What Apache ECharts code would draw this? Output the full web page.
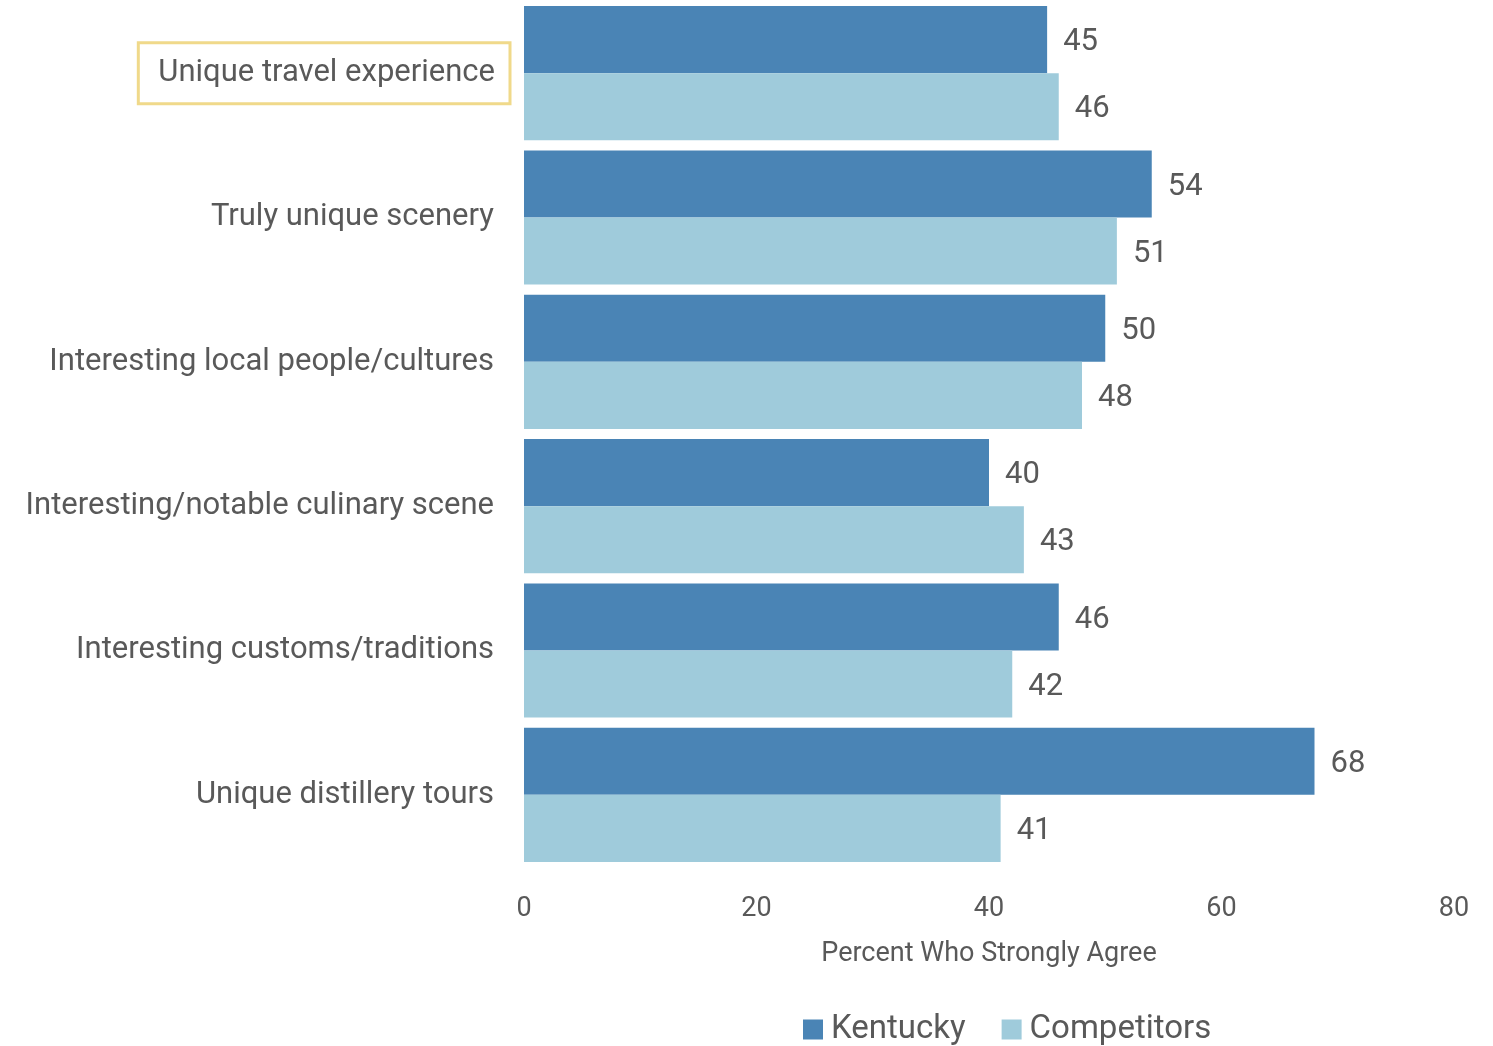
<!DOCTYPE html>
<html>
<head>
<meta charset="utf-8">
<script src="https://cdn.jsdelivr.net/npm/echarts@6/dist/echarts.min.js"></script>
<style>
  html, body { margin: 0; padding: 0; background: #fff; }
  #chart { width: 1493px; height: 1046px; }
</style>
</head>
<body>
<div id="chart"></div>
<script>
// Attributes, listed top to bottom
const categories = [
  'Unique travel experience',
  'Truly unique scenery',
  'Interesting local people/cultures',
  'Interesting/notable culinary scene',
  'Interesting customs/traditions',
  'Unique distillery tours'
];
const kentucky = [45, 54, 50, 40, 46, 68];
const competitors = [46, 51, 48, 43, 42, 41];
const xTicks = [0, 20, 40, 60, 80];
const highlighted = 'Unique travel experience';

const textColor = '#595959';
const font = 'Roboto, "DejaVu Sans", sans-serif';

const chart = echarts.init(document.getElementById('chart'));

const valueLabel = {
  show: true,
  position: 'right',
  distance: 16,
  offset: [0, 3],
  color: textColor,
  fontFamily: font,
  fontSize: 31
};

chart.setOption({
  backgroundColor: '#ffffff',
  animation: false,
  grid: { left: 524, right: 39, top: 1, bottom: 179 },
  xAxis: {
    type: 'value',
    min: xTicks[0],
    max: xTicks[xTicks.length - 1],
    interval: 20,
    name: 'Percent Who Strongly Agree',
    nameLocation: 'middle',
    nameGap: 74,
    nameTextStyle: { color: textColor, fontFamily: font, fontSize: 27 },
    axisLine: { show: false },
    axisTick: { show: false },
    splitLine: { show: false },
    axisLabel: { color: textColor, fontFamily: font, fontSize: 27, margin: 29 }
  },
  yAxis: {
    type: 'category',
    inverse: true,
    data: categories,
    axisLine: { show: false },
    axisTick: { show: false },
    axisLabel: {
      margin: 14,
      formatter: v => v === highlighted ? '{hl|' + v + '}' : '{n|' + v + '}',
      rich: {
        hl: {
          color: textColor, fontFamily: font, fontSize: 31,
          borderColor: '#f0d98a', borderWidth: 3,
          padding: [15, 15, 15, 20]
        },
        n: {
          color: textColor, fontFamily: font, fontSize: 31,
          padding: [15, 16, 15, 16]
        }
      }
    }
  },
  legend: {
    bottom: -5,
    left: 798,
    itemWidth: 20,
    itemHeight: 20,
    itemGap: 36,
    icon: 'rect',
    textStyle: { color: textColor, fontFamily: font, fontSize: 33, padding: [0, 0, 0, 3] },
    data: ['Kentucky', 'Competitors']
  },
  series: [
    {
      name: 'Kentucky',
      type: 'bar',
      data: kentucky,
      itemStyle: { color: '#4a84b5' },
      barGap: '0%',
      barCategoryGap: '7%',
      label: valueLabel
    },
    {
      name: 'Competitors',
      type: 'bar',
      data: competitors,
      itemStyle: { color: '#9fcbdb' },
      barGap: '0%',
      barCategoryGap: '7%',
      label: valueLabel
    }
  ]
});
</script>
</body>
</html>
